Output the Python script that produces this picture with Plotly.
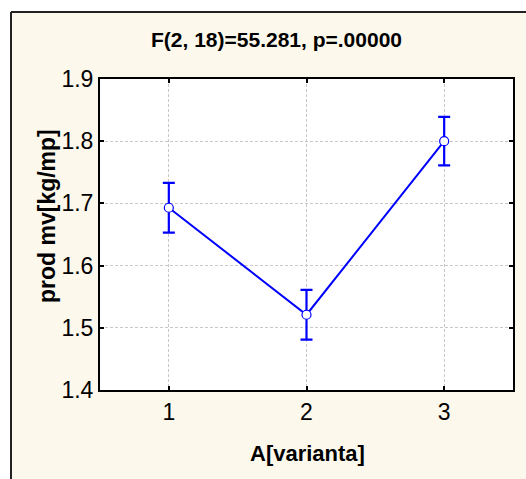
import plotly.graph_objects as go

# Data
categories = [1, 2, 3]
means = [1.693, 1.521, 1.800]
errors = [0.040, 0.040, 0.039]
x_ticks = [1, 2, 3]
y_ticks = [1.4, 1.5, 1.6, 1.7, 1.8, 1.9]
title_text = "F(2, 18)=55.281, p=.00000"
x_title = "A[varianta]"
y_title = "prod mv[kg/mp]"

W, H = 526, 479
L, R, T, B = 100, 13, 79, 89
pw, ph = W - L - R, H - T - B

def px(x):
    return (x - L) / pw

def py(y):
    return (H - B - y) / ph

cream = "#FDF8EC"
font = "Liberation Sans, Arial, sans-serif"

fig = go.Figure()
fig.add_trace(go.Scatter(
    x=categories, y=means, mode="lines+markers",
    line=dict(color="#0000FF", width=2),
    marker=dict(symbol="circle", size=9, color="white",
                line=dict(color="#0000FF", width=1.2)),
    error_y=dict(type="data", array=errors, visible=True,
                 color="#0000FF", thickness=2.2, width=6),
    showlegend=False, cliponaxis=False,
))

axis_common = dict(
    showline=True, linecolor="black", linewidth=2, mirror="ticks",
    ticks="inside", ticklen=4, tickwidth=2, tickcolor="black",
    showgrid=True, gridcolor="#C8C8C8", gridwidth=1, griddash="3px,2px",
    zeroline=False,
    tickfont=dict(family=font, size=23, color="black"),
)

fig.update_xaxes(range=[0.5, 3.5], tickvals=x_ticks,
                 ticktext=[str(v) for v in x_ticks], **axis_common)
fig.update_yaxes(range=[1.4, 1.9], tickvals=y_ticks,
                 ticktext=[f"{v:.1f}" for v in y_ticks], **axis_common)

shapes = [
    dict(type="rect", xref="paper", yref="paper", x0=px(-5), x1=px(W + 5),
         y0=py(12), y1=py(-5), fillcolor="white", line=dict(width=0), layer="below"),
    dict(type="rect", xref="paper", yref="paper", x0=px(-5), x1=px(11),
         y0=py(H + 5), y1=py(12), fillcolor="white", line=dict(width=0), layer="below"),
    dict(type="line", xref="paper", yref="paper", x0=px(11), x1=px(W + 5),
         y0=py(12), y1=py(12), line=dict(color="#222222", width=2)),
    dict(type="line", xref="paper", yref="paper", x0=px(11), x1=px(11),
         y0=py(12), y1=py(H + 5), line=dict(color="#222222", width=2)),
]

annotations = [
    dict(text=f"<b>{title_text}</b>", xref="paper", yref="paper",
         x=px(276), y=py(40), xanchor="center", yanchor="middle",
         showarrow=False, font=dict(family=font, size=21, color="black")),
    dict(text=f"<b>{x_title}</b>", xref="paper", yref="paper",
         x=px(307), y=py(453), xanchor="center", yanchor="middle",
         showarrow=False, font=dict(family=font, size=22, color="black")),
    dict(text=f"<b>{y_title}</b>", xref="paper", yref="paper",
         x=px(47), y=py(216), xanchor="center", yanchor="middle", textangle=-90,
         showarrow=False, font=dict(family=font, size=23, color="black")),
]

fig.update_layout(
    width=W, height=H, autosize=False,
    margin=dict(l=L, r=R, t=T, b=B, pad=0),
    paper_bgcolor=cream, plot_bgcolor="white",
    shapes=shapes, annotations=annotations,
)

fig.write_html("out.html", config={"displayModeBar": False},
               post_script="document.body.style.margin='0px';")
